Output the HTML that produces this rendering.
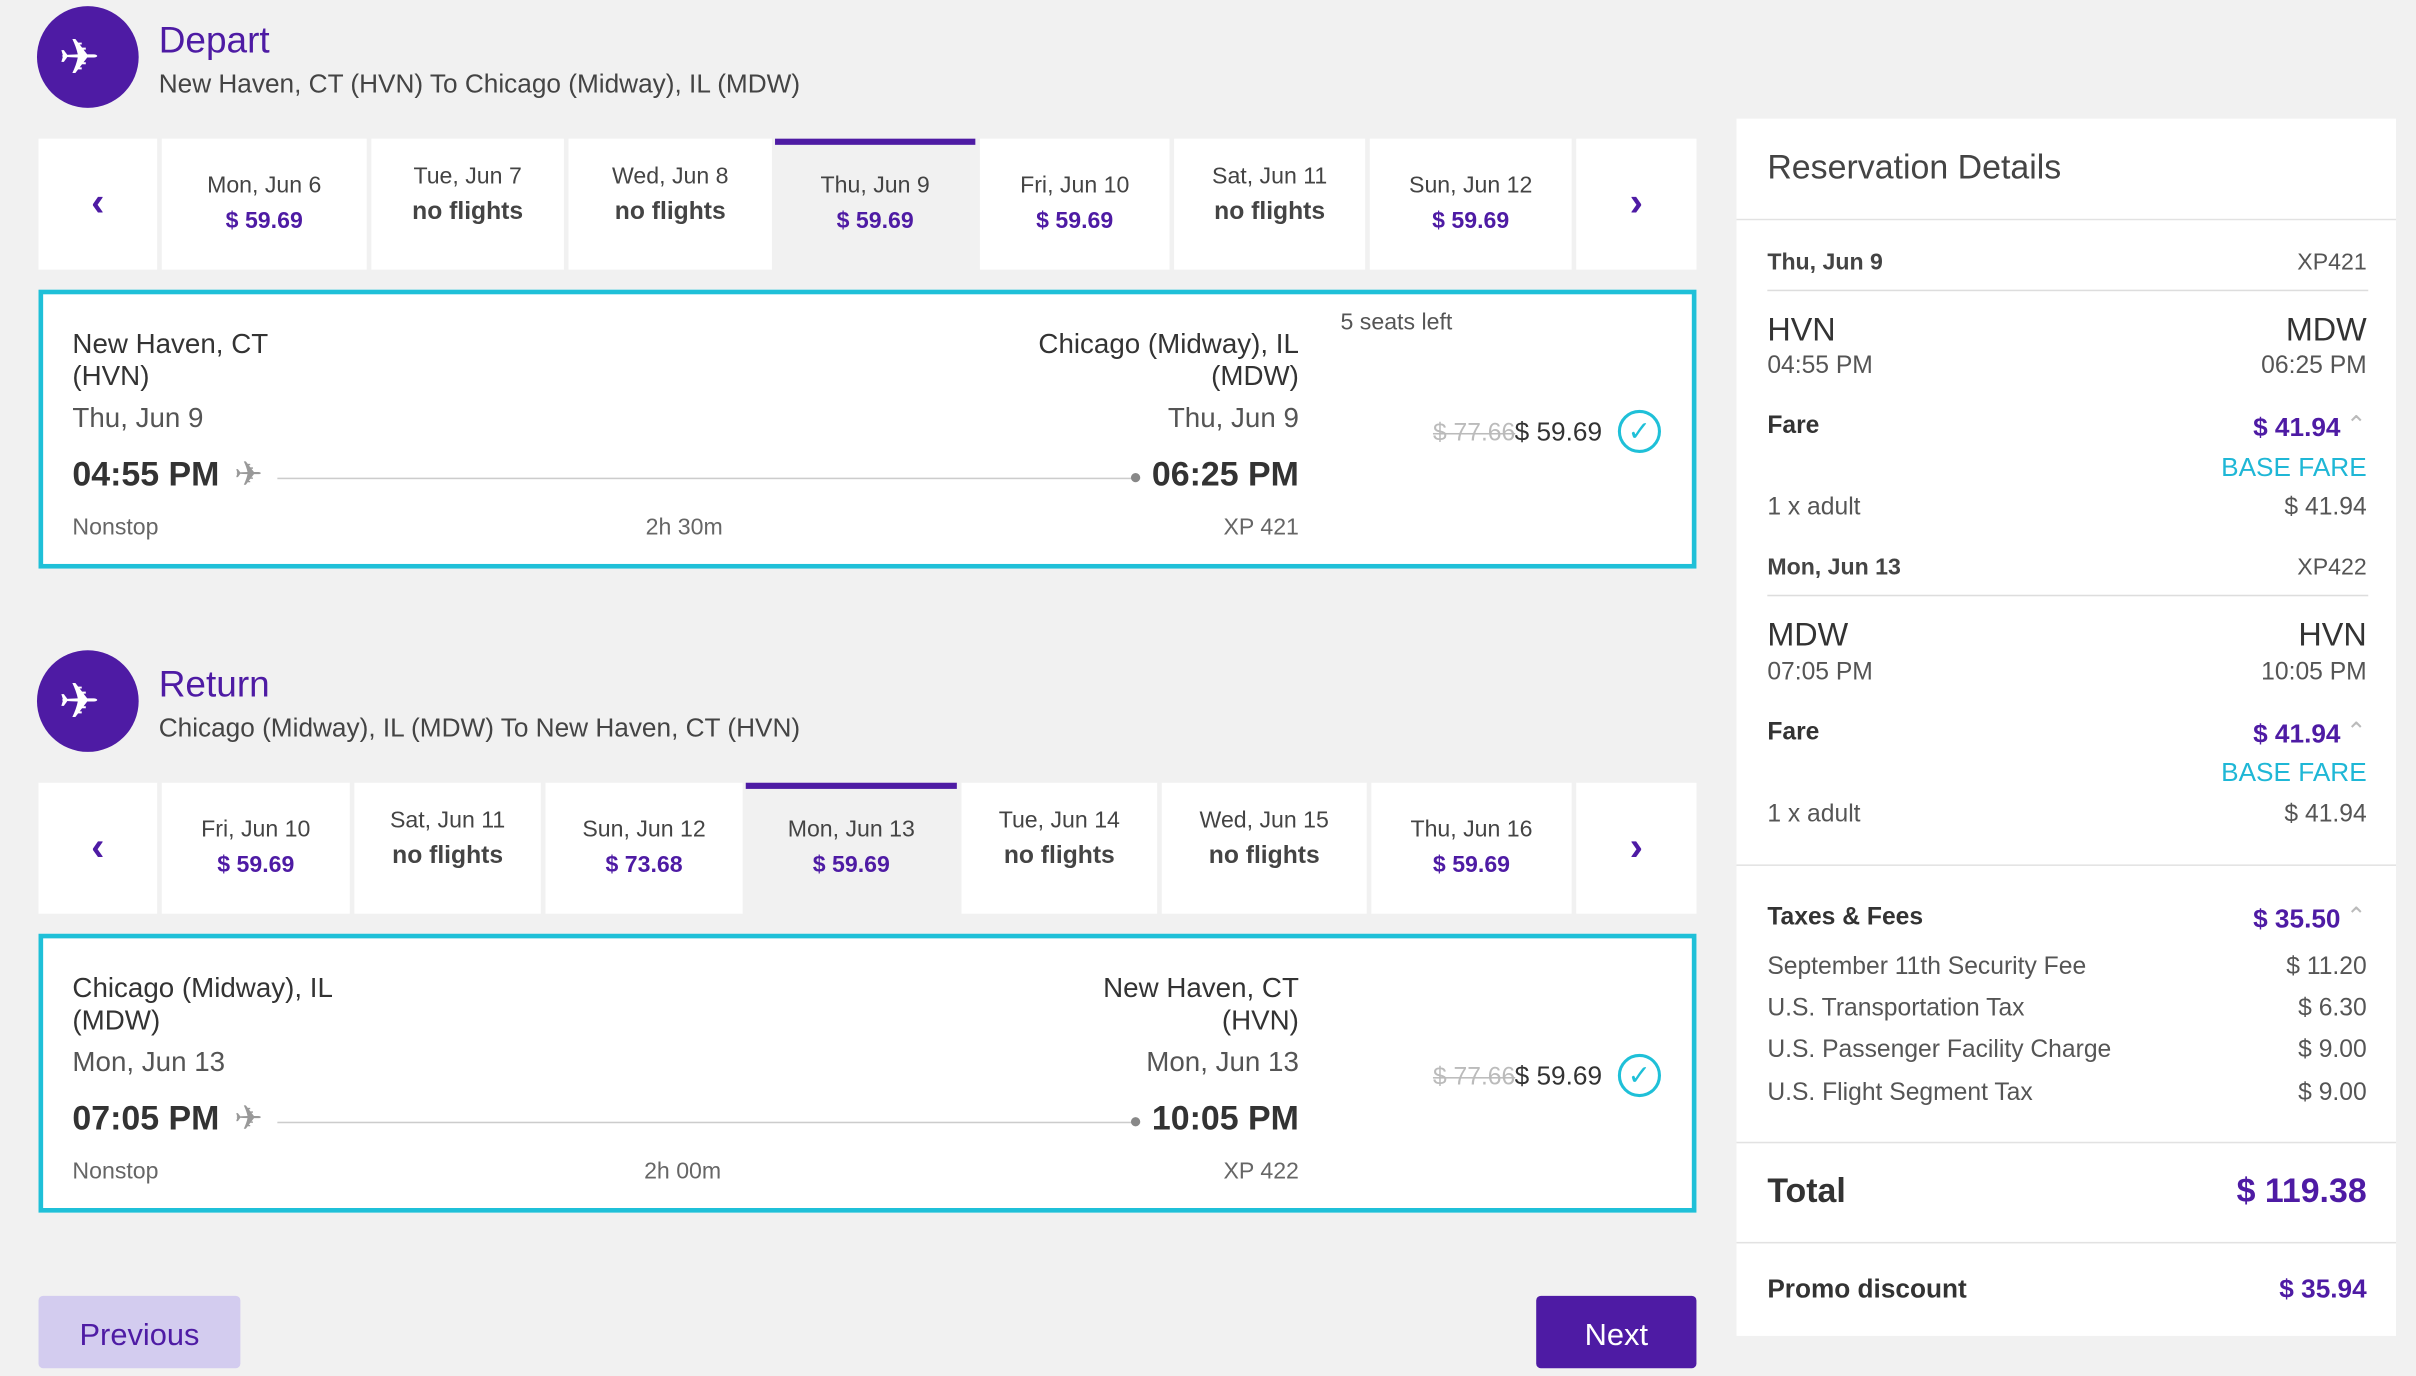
<!DOCTYPE html>
<html><head><meta charset="utf-8"><style>
html,body{margin:0;padding:0;width:2416px;height:1368px;overflow:hidden;background:#f1f1f1}
#w{position:absolute;left:0;top:0;width:1568px;height:888px;transform:scale(1.54082);transform-origin:0 0;font-family:"Liberation Sans",sans-serif;color:#333}
.a{position:absolute}
.circ{width:66px;height:66px;border-radius:50%;background:#4e1ba4}
.ttl{font-size:24px;color:#4e1ba4}
.sub{font-size:17px;color:#444}
.cell{position:absolute;background:#fff;text-align:center;font-size:15px;color:#444}
.cell .p{color:#4e1ba4;font-weight:bold;margin-top:6px}
.cell .n{font-weight:bold;color:#444;margin-top:6px;font-size:16px}
.sel{background:#f1f1f1;border-top:4px solid #4e1ba4}
.arr{color:#4e1ba4;font-size:26px;font-weight:bold}
.card{position:absolute;left:25px;width:1070px;height:175px;background:#fff;border:3px solid #1fc0d8}
.card .t{position:absolute;font-size:18px;color:#333}
.card .big{font-size:22px;font-weight:bold;color:#333}
.card .sm{position:absolute;font-size:15px;color:#666}
.line{position:absolute;height:1px;background:#ccc}
.r{position:absolute;font-size:16px;color:#333}
.pu{color:#4e1ba4}
.cy{color:#1fb7d6}
.hr{position:absolute;height:1px;background:#ddd}
</style></head><body><div id="w">
<!-- Depart -->
<div class="a circ" style="left:24px;top:4px"></div>
<div class="a" style="left:38px;top:18px;color:#fff;font-size:32px">✈</div>
<div class="a ttl" style="left:103px;top:13px">Depart</div>
<div class="a sub" style="left:103px;top:45px">New Haven, CT (HVN) To Chicago (Midway), IL (MDW)</div>
<div class="cell" style="left:25px;top:90px;width:77px;height:85px"><div class="arr" style="margin-top:26px">‹</div></div>
<div class="cell" style="left:105px;top:90px;width:133px;height:85px"><div style="margin-top:22px">Mon, Jun 6</div><div class="p">$ 59.69</div></div>
<div class="cell" style="left:241px;top:90px;width:125px;height:85px"><div style="margin-top:16px">Tue, Jun 7</div><div class="n">no flights</div></div>
<div class="cell" style="left:369px;top:90px;width:132px;height:85px"><div style="margin-top:16px">Wed, Jun 8</div><div class="n">no flights</div></div>
<div class="cell sel" style="left:503px;top:90px;width:130px;height:81px"><div style="margin-top:18px">Thu, Jun 9</div><div class="p">$ 59.69</div></div>
<div class="cell" style="left:636px;top:90px;width:123px;height:85px"><div style="margin-top:22px">Fri, Jun 10</div><div class="p">$ 59.69</div></div>
<div class="cell" style="left:762px;top:90px;width:124px;height:85px"><div style="margin-top:16px">Sat, Jun 11</div><div class="n">no flights</div></div>
<div class="cell" style="left:889px;top:90px;width:131px;height:85px"><div style="margin-top:22px">Sun, Jun 12</div><div class="p">$ 59.69</div></div>
<div class="cell" style="left:1023px;top:90px;width:78px;height:85px"><div class="arr" style="margin-top:26px">›</div></div>
<div class="card" style="top:188px">
 <div class="t" style="left:19px;top:22px;line-height:21px">New Haven, CT<br>(HVN)</div>
 <div class="t" style="left:19px;top:70px;color:#555">Thu, Jun 9</div>
 <div class="t big" style="left:19px;top:104px">04:55 PM</div>
 <div class="t" style="left:124px;top:104px;color:#999;font-size:22px">✈</div>
 <div class="line" style="left:152px;top:119px;width:560px"></div>
 <div class="a" style="left:706px;top:116px;width:6px;height:6px;border-radius:3px;background:#888"></div>
 <div class="t" style="right:255px;top:22px;text-align:right;line-height:21px">Chicago (Midway), IL<br>(MDW)</div>
 <div class="t" style="right:255px;top:70px;color:#555">Thu, Jun 9</div>
 <div class="t big" style="right:255px;top:104px">06:25 PM</div>
 <div class="sm" style="left:19px;top:143px">Nonstop</div>
 <div class="sm" style="left:391px;top:143px">2h 30m</div>
 <div class="sm" style="right:255px;top:143px">XP 421</div>
 <div class="sm" style="left:842px;top:10px;color:#555">5 seats left</div>
 <div class="sm" style="left:902px;top:82px;color:#bbb;text-decoration:line-through;font-size:16px">$ 77.66</div>
 <div class="t" style="left:955px;top:80px;font-size:17px">$ 59.69</div>
 <div class="a" style="left:1022px;top:75px;width:24px;height:24px;border:2px solid #1fc0d8;border-radius:50%;color:#1fc0d8;text-align:center;font-size:18px;line-height:24px">✓</div>
</div>
<!-- Return -->
<div class="a circ" style="left:24px;top:422px"></div>
<div class="a" style="left:38px;top:436px;color:#fff;font-size:32px">✈</div>
<div class="a ttl" style="left:103px;top:431px">Return</div>
<div class="a sub" style="left:103px;top:463px">Chicago (Midway), IL (MDW) To New Haven, CT (HVN)</div>
<div class="cell" style="left:25px;top:508px;width:77px;height:85px"><div class="arr" style="margin-top:26px">‹</div></div>
<div class="cell" style="left:105px;top:508px;width:122px;height:85px"><div style="margin-top:22px">Fri, Jun 10</div><div class="p">$ 59.69</div></div>
<div class="cell" style="left:230px;top:508px;width:121px;height:85px"><div style="margin-top:16px">Sat, Jun 11</div><div class="n">no flights</div></div>
<div class="cell" style="left:354px;top:508px;width:128px;height:85px"><div style="margin-top:22px">Sun, Jun 12</div><div class="p">$ 73.68</div></div>
<div class="cell sel" style="left:484px;top:508px;width:137px;height:81px"><div style="margin-top:18px">Mon, Jun 13</div><div class="p">$ 59.69</div></div>
<div class="cell" style="left:624px;top:508px;width:127px;height:85px"><div style="margin-top:16px">Tue, Jun 14</div><div class="n">no flights</div></div>
<div class="cell" style="left:754px;top:508px;width:133px;height:85px"><div style="margin-top:16px">Wed, Jun 15</div><div class="n">no flights</div></div>
<div class="cell" style="left:890px;top:508px;width:130px;height:85px"><div style="margin-top:22px">Thu, Jun 16</div><div class="p">$ 59.69</div></div>
<div class="cell" style="left:1023px;top:508px;width:78px;height:85px"><div class="arr" style="margin-top:26px">›</div></div>
<div class="card" style="top:606px">
 <div class="t" style="left:19px;top:22px;line-height:21px">Chicago (Midway), IL<br>(MDW)</div>
 <div class="t" style="left:19px;top:70px;color:#555">Mon, Jun 13</div>
 <div class="t big" style="left:19px;top:104px">07:05 PM</div>
 <div class="t" style="left:124px;top:104px;color:#999;font-size:22px">✈</div>
 <div class="line" style="left:152px;top:119px;width:560px"></div>
 <div class="a" style="left:706px;top:116px;width:6px;height:6px;border-radius:3px;background:#888"></div>
 <div class="t" style="right:255px;top:22px;text-align:right;line-height:21px">New Haven, CT<br>(HVN)</div>
 <div class="t" style="right:255px;top:70px;color:#555">Mon, Jun 13</div>
 <div class="t big" style="right:255px;top:104px">10:05 PM</div>
 <div class="sm" style="left:19px;top:143px">Nonstop</div>
 <div class="sm" style="left:390px;top:143px">2h 00m</div>
 <div class="sm" style="right:255px;top:143px">XP 422</div>
 <div class="sm" style="left:902px;top:82px;color:#bbb;text-decoration:line-through;font-size:16px">$ 77.66</div>
 <div class="t" style="left:955px;top:80px;font-size:17px">$ 59.69</div>
 <div class="a" style="left:1022px;top:75px;width:24px;height:24px;border:2px solid #1fc0d8;border-radius:50%;color:#1fc0d8;text-align:center;font-size:18px;line-height:24px">✓</div>
</div>
<div class="a" style="left:25px;top:841px;width:131px;height:47px;background:#d3ccef;border-radius:3px;color:#4e1ba4;font-size:20px;text-align:center;line-height:52px">Previous</div>
<div class="a" style="left:997px;top:841px;width:104px;height:47px;background:#4e1ba4;border-radius:3px;color:#fff;font-size:20px;text-align:center;line-height:52px">Next</div>
<!-- Right panel -->
<div class="a" style="left:1127px;top:77px;width:428px;height:790px;background:#fff"></div>
<div class="r" style="left:1147px;top:96px;font-size:22px;color:#444">Reservation Details</div>
<div class="a" style="left:1127px;top:142px;width:428px;height:1px;background:#e2e2e2"></div>
<div class="a" style="left:1127px;top:143px;width:428px;height:418px;background:#fff"></div>
<div class="r" style="left:1147px;top:162px;font-size:15px;font-weight:bold;color:#444">Thu, Jun 9</div>
<div class="r" style="right:32px;top:162px;font-size:15px;color:#555">XP421</div>
<div class="hr" style="left:1147px;top:188px;width:390px"></div>
<div class="r" style="left:1147px;top:203px;font-size:21px">HVN</div>
<div class="r" style="right:32px;top:203px;font-size:21px">MDW</div>
<div class="r" style="left:1147px;top:229px;color:#555">04:55 PM</div>
<div class="r" style="right:32px;top:229px;color:#555">06:25 PM</div>
<div class="r" style="left:1147px;top:268px;font-weight:bold">Fare</div>
<div class="r pu" style="right:49px;top:268px;font-weight:bold;font-size:17px">$ 41.94</div>
<div class="r" style="right:32px;top:266px;color:#bbb">⌃</div>
<div class="r cy" style="right:32px;top:294px;font-size:17px">BASE FARE</div>
<div class="r" style="left:1147px;top:321px;color:#555">1 x adult</div>
<div class="r" style="right:32px;top:321px;color:#555">$ 41.94</div>
<div class="r" style="left:1147px;top:360px;font-size:15px;font-weight:bold;color:#444">Mon, Jun 13</div>
<div class="r" style="right:32px;top:360px;font-size:15px;color:#555">XP422</div>
<div class="hr" style="left:1147px;top:386px;width:390px"></div>
<div class="r" style="left:1147px;top:401px;font-size:21px">MDW</div>
<div class="r" style="right:32px;top:401px;font-size:21px">HVN</div>
<div class="r" style="left:1147px;top:428px;color:#555">07:05 PM</div>
<div class="r" style="right:32px;top:428px;color:#555">10:05 PM</div>
<div class="r" style="left:1147px;top:467px;font-weight:bold">Fare</div>
<div class="r pu" style="right:49px;top:467px;font-weight:bold;font-size:17px">$ 41.94</div>
<div class="r" style="right:32px;top:465px;color:#bbb">⌃</div>
<div class="r cy" style="right:32px;top:492px;font-size:17px">BASE FARE</div>
<div class="r" style="left:1147px;top:520px;color:#555">1 x adult</div>
<div class="r" style="right:32px;top:520px;color:#555">$ 41.94</div>
<div class="a" style="left:1127px;top:561px;width:428px;height:1px;background:#e2e2e2"></div>
<div class="r" style="left:1147px;top:587px;font-weight:bold">Taxes &amp; Fees</div>
<div class="r pu" style="right:49px;top:587px;font-weight:bold;font-size:17px">$ 35.50</div>
<div class="r" style="right:32px;top:585px;color:#bbb">⌃</div>
<div class="r" style="left:1147px;top:619px;color:#555">September 11th Security Fee</div><div class="r" style="right:32px;top:619px;color:#555">$ 11.20</div>
<div class="r" style="left:1147px;top:646px;color:#555">U.S. Transportation Tax</div><div class="r" style="right:32px;top:646px;color:#555">$ 6.30</div>
<div class="r" style="left:1147px;top:673px;color:#555">U.S. Passenger Facility Charge</div><div class="r" style="right:32px;top:673px;color:#555">$ 9.00</div>
<div class="r" style="left:1147px;top:701px;color:#555">U.S. Flight Segment Tax</div><div class="r" style="right:32px;top:701px;color:#555">$ 9.00</div>
<div class="a" style="left:1127px;top:741px;width:428px;height:1px;background:#e2e2e2"></div>
<div class="r" style="left:1147px;top:760px;font-size:22px;font-weight:bold">Total</div>
<div class="r pu" style="right:32px;top:760px;font-size:22px;font-weight:bold">$ 119.38</div>
<div class="a" style="left:1127px;top:806px;width:428px;height:1px;background:#e2e2e2"></div>
<div class="r" style="left:1147px;top:827px;font-weight:bold;font-size:17px">Promo discount</div>
<div class="r pu" style="right:32px;top:827px;font-weight:bold;font-size:17px">$ 35.94</div>
</div></body></html>
